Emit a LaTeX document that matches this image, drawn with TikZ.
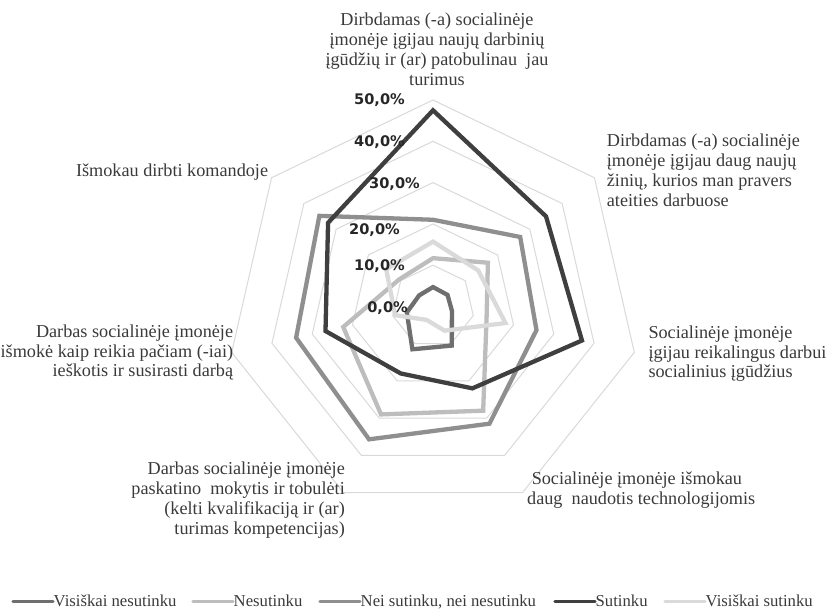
\documentclass[tikz,border=0pt]{standalone}
\usepackage{fontspec}
\setmainfont{Liberation Serif}
\newfontfamily\pctfont{DejaVu Sans}

\definecolor{ringgray}{HTML}{D9D9D9}
\definecolor{labeltext}{HTML}{3A3A3A}
\definecolor{pcttext}{HTML}{262626}
\definecolor{cVN}{HTML}{6F6F6F}% Visiškai nesutinku
\definecolor{cN}{HTML}{BDBDBD}%  Nesutinku
\definecolor{cNN}{HTML}{8F8F8F}% Nei sutinku, nei nesutinku
\definecolor{cS}{HTML}{3F3F3F}%  Sutinku
\definecolor{cVS}{HTML}{DADADA}% Visiškai sutinku

% one closed polygon of a series: prefix for point names, draw style, seven values in %
\newcommand\radarpoly[3]{%
  \foreach \v [count=\k from 0] in {#3} {\coordinate (#1\k) at ({90-\k*360/7}:{\v*4.13});}
  \draw[#2] (#10) -- (#11) -- (#12) -- (#13) -- (#14) -- (#15) -- (#16) -- cycle;
}

\begin{document}
\begin{tikzpicture}[x=1pt,y=1pt,
  ring/.style={draw=ringgray, line width=1pt},
  series/.style={line width=4.3pt, line join=miter},
  axislabel/.style={inner sep=0pt, font=\fontsize{18.2}{19.8}\selectfont, text=labeltext},
  pct/.style={inner sep=0pt, anchor=base east, font=\pctfont\bfseries\fontsize{14.6}{14.6}\selectfont, text=pcttext},
  legline/.style={line width=3.3pt, line cap=round},
  legtext/.style={inner sep=0pt, anchor=base west, font=\fontsize{16.7}{18}\selectfont, text=labeltext}]

\useasboundingbox (0,0) rectangle (828,611);

% chart body, centred on the common origin of the seven axes
\begin{scope}[shift={(433,304.5)}]
  % grid rings for 10 % ... 50 %
  \foreach \r in {1,...,5}
    \draw[ring] (90:{\r*41.3}) \foreach \k in {1,...,6} { -- ({90-\k*360/7}:{\r*41.3}) } -- cycle;

  % data series
  \radarpoly{vn}{series, draw=cVN}{4.7, 4.5, 4.7, 10.5, 11.5, 6.5, 4.3}
  \radarpoly{ns}{series, draw=cN}{11.7, 17, 13.3, 28, 29, 22.3, 10.5}
  \radarpoly{nn}{series, draw=cNN}{21, 27, 25.7, 31.5, 35.7, 34, 35.2}
  \radarpoly{st}{series, draw=cS}{47.5, 35, 37, 22, 18, 26.7, 32.5}
  \radarpoly{vs}{series, draw=cVS}{15.7, 14, 18, 6.5, 3.6, 9.4, 14.5}
\end{scope}

% scale labels
\node[pct] (p50) at (405,506)   {50,0\%};
\node[pct] (p40) at (405,464.3) {40,0\%};
\node[pct] (p30) at (420,422.7) {30,0\%};
\node[pct] (p20) at (400,376)   {20,0\%};
\node[pct] (p10) at (405,340.3) {10,0\%};
\node[pct] (p00) at (408,298.7) {0,0\%};

% category labels (base anchor = baseline of the last line)
\node[axislabel, anchor=base, align=center] (a1) at (437,525.6)
  {Dirbdamas (-a) socialinėje\\ įmonėje įgijau naujų darbinių\\ įgūdžių ir (ar) patobulinau~ jau\\ turimus};
\node[axislabel, anchor=base west, align=left] (a2) at (606.7,404.9)
  {Dirbdamas (-a) socialinėje\\ įmonėje įgijau daug naujų\\ žinių, kurios man pravers\\ ateities darbuose};
\node[axislabel, anchor=base west, align=left] (a3) at (648.3,233.1)
  {Socialinėje įmonėje\\ įgijau reikalingus darbui\\ socialinius įgūdžius};
\node[axislabel, anchor=base west, align=left] (a4) at (527,106.2)
  {~Socialinėje įmonėje išmokau\\ daug~ naudotis technologijomis};
\node[axislabel, anchor=base east, align=right] (a5) at (345,76.6)
  {Darbas socialinėje įmonėje\\ paskatino~ mokytis ir tobulėti\\ (kelti kvalifikaciją ir (ar)\\ turimas kompetencijas)};
\node[axislabel, anchor=base east, align=right] (a6) at (233.3,234.1)
  {Darbas socialinėje įmonėje\\ išmokė kaip reikia pačiam (-iai)\\ ieškotis ir susirasti darbą};
\node[axislabel, anchor=base east] (a7) at (268.3,434.3) {Išmokau dirbti komandoje};

% legend
\foreach \x/\col/\txt [count=\i] in {13/cVN/Visiškai nesutinku, 193/cN/Nesutinku,
    320/cNN/{Nei sutinku, nei nesutinku}, 555/cS/Sutinku, 665/cVS/Visiškai sutinku} {
  \coordinate (la\i) at (\x,9.5);
  \coordinate (lb\i) at (\x+40,9.5);
  \draw[legline, draw=\col] (la\i) -- (lb\i);
  \node[legtext] (lt\i) at (\x+40.5,4.5) {\txt};
}
\end{tikzpicture}
\end{document}
